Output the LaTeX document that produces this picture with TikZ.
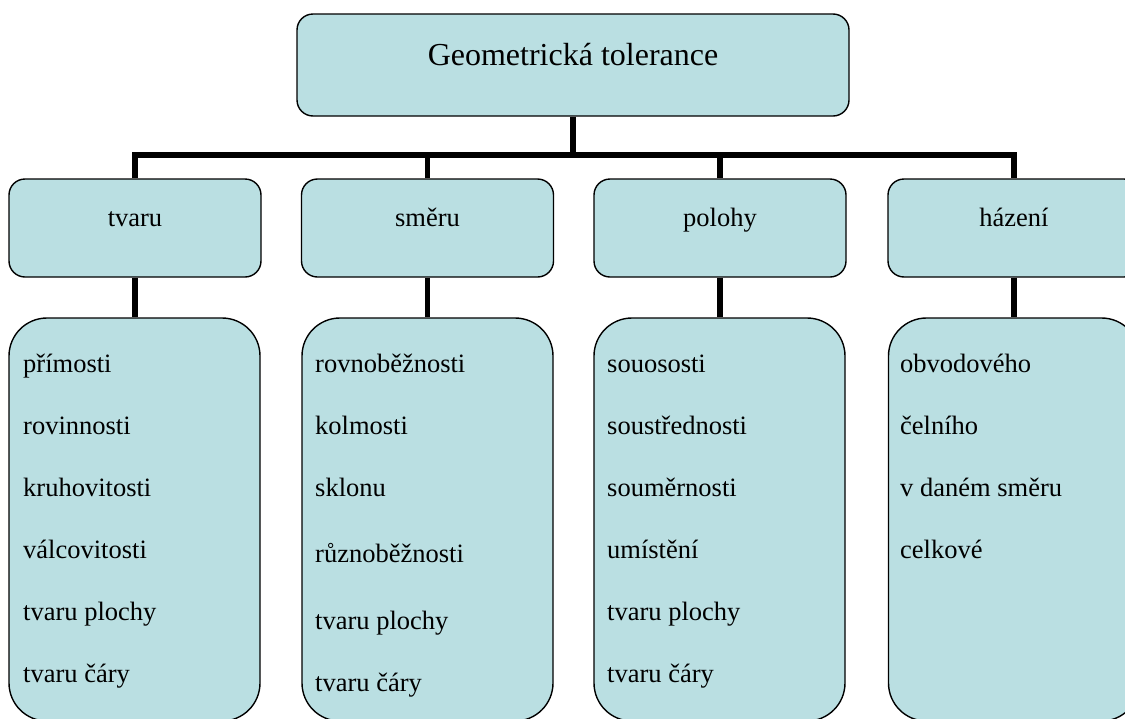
\documentclass[tikz,border=0pt]{standalone}
\usepackage{fontspec}
\setmainfont{Liberation Serif}
\definecolor{boxfill}{RGB}{186,223,226}
\begin{document}
\begin{tikzpicture}[x=1pt,y=-1pt,
  box/.style={draw=black, line width=1.4pt, fill=boxfill, rounded corners=16pt, inner sep=0pt},
  bigbox/.style={box, rounded corners=38pt, minimum width=251pt, minimum height=403pt},
  midbox/.style={box, minimum width=252pt, minimum height=98pt},
  conn/.style={line width=5.5pt, line join=miter, draw=black},
  lbl/.style={anchor=base, inner sep=0pt, font=\fontsize{26.5}{30}\selectfont},
  item/.style={anchor=base west, inner sep=0pt, font=\fontsize{26.5}{30}\selectfont},
]
\useasboundingbox (0,0) rectangle (1125,718);
\clip (0,0) rectangle (1125,718);

% top box
\node[box, minimum width=552pt, minimum height=102pt] (top) at (573,65) {};
\node[lbl, font=\fontsize{32}{36}\selectfont] (topT) at (573,65) {Geometrická tolerance};

% second row
\node[midbox] (tvaru) at (135,228) {};
\node[midbox] (smeru) at (427.5,228) {};
\node[midbox] (polohy) at (720,228) {};
\node[midbox] (hazeni) at (1014,228) {};
\node[lbl] (tvaruT) at (135,226) {tvaru};
\node[lbl] (smeruT) at (427.5,226) {směru};
\node[lbl] (polohyT) at (720,226) {polohy};
\node[lbl] (hazeniT) at (1014,226) {házení};

% third row
\node[bigbox] (L1) at (134.5,519.5) {};
\node[bigbox] (L2) at (427.5,519.5) {};
\node[bigbox] (L3) at (719.5,519.5) {};
\node[bigbox] (L4) at (1014,519.5) {};

% connectors
\coordinate (busL) at (135,155);
\coordinate (busR) at (1014,155);
\draw[conn] (top.south) -- (top.south |- busL);
\draw[conn] (tvaru.north) -- (busL) -- (busR) -- (hazeni.north);
\draw[conn] (smeru.north) -- (smeru.north |- busL);
\draw[conn] (polohy.north) -- (polohy.north |- busL);
\draw[conn] (tvaru.south) -- (tvaru.south |- L1.north);
\draw[conn] (smeru.south) -- (smeru.south |- L2.north);
\draw[conn] (polohy.south) -- (polohy.south |- L3.north);
\draw[conn] (hazeni.south) -- (hazeni.south |- L4.north);

% items
\node[item] (a1) at (23,372) {přímosti};
\node[item] (a2) at (23,434) {rovinnosti};
\node[item] (a3) at (23,496) {kruhovitosti};
\node[item] (a4) at (23,558) {válcovitosti};
\node[item] (a5) at (23,620) {tvaru plochy};
\node[item] (a6) at (23,682) {tvaru čáry};

\node[item] (b1) at (315,372) {rovnoběžnosti};
\node[item] (b2) at (315,434) {kolmosti};
\node[item] (b3) at (315,496) {sklonu};
\node[item] (b4) at (315,562) {různoběžnosti};
\node[item] (b5) at (315,629) {tvaru plochy};
\node[item] (b6) at (315,691) {tvaru čáry};

\node[item] (c1) at (607,372) {souososti};
\node[item] (c2) at (607,434) {soustřednosti};
\node[item] (c3) at (607,496) {souměrnosti};
\node[item] (c4) at (607,558) {umístění};
\node[item] (c5) at (607,620) {tvaru plochy};
\node[item] (c6) at (607,682) {tvaru čáry};

\node[item] (d1) at (900,372) {obvodového};
\node[item] (d2) at (900,434) {čelního};
\node[item] (d3) at (900,496) {v daném směru};
\node[item] (d4) at (900,558) {celkové};
\end{tikzpicture}
\end{document}
